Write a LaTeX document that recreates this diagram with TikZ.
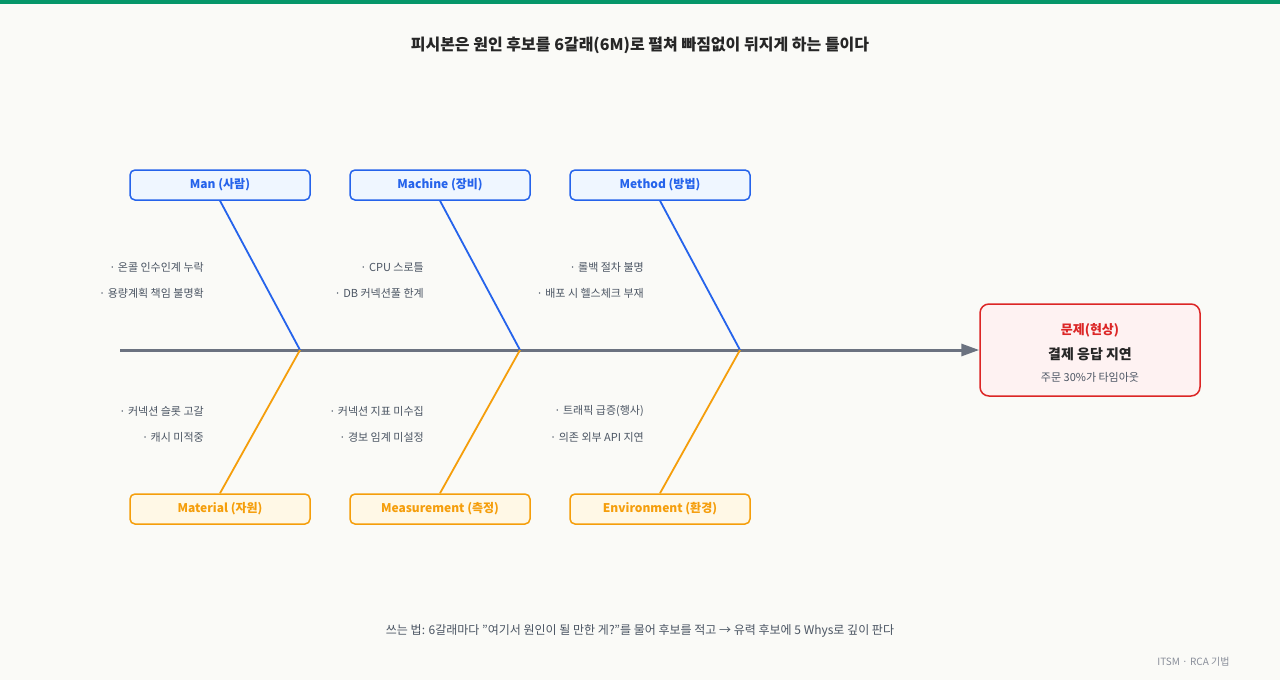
\documentclass[tikz,border=0pt]{standalone}
\usepackage{fontspec}
\setmainfont{Noto Sans CJK KR}
\usetikzlibrary{arrows.meta}
\definecolor{bg}{HTML}{FAFAF7}
\definecolor{bar}{HTML}{059669}
\definecolor{blu}{HTML}{2563EB}
\definecolor{blufill}{HTML}{EFF6FF}
\definecolor{org}{HTML}{F59E0B}
\definecolor{orgfill}{HTML}{FFF8E6}
\definecolor{redc}{HTML}{DC2626}
\definecolor{redfill}{HTML}{FEF2F2}
\definecolor{spine}{HTML}{6B7280}
\definecolor{txt}{HTML}{4B5563}
\tikzset{
 catA/.style={draw=blu,fill=blufill,line width=1.5pt,rounded corners=5pt,minimum width=180pt,minimum height=30pt,text=blu,font=\fontsize{12}{14}\selectfont\bfseries},
 catB/.style={catA,draw=org,fill=orgfill,text=org},
 cause/.style={anchor=east,text=txt,font=\fontsize{11}{13}\selectfont,inner sep=0pt},
 boneA/.style={blu,line width=1.8pt},
 boneB/.style={org,line width=1.8pt}
}
\begin{document}
\begin{tikzpicture}[x=1pt,y=-1pt]
\fill[bg] (0,0) rectangle (1280,680);
\useasboundingbox (0,0) rectangle (1280,680);
\fill[bar] (0,0) rectangle (1280,4);
\node[font=\fontsize{16}{19}\selectfont\bfseries,text=black!85] (title) at (640,45) {피시본은 원인 후보를 6갈래(6M)로 펼쳐 빠짐없이 뒤지게 하는 틀이다};
\node[draw=redc,fill=redfill,line width=1.5pt,rounded corners=9pt,minimum width=220pt,minimum height=92pt] (prob) at (1090,350) {};
\node[text=redc,font=\fontsize{13}{15}\selectfont\bfseries] (p1) at (1090,330) {문제(현상)};
\node[text=black!85,font=\fontsize{14}{16}\selectfont\bfseries] (p2) at (1090,354) {결제 응답 지연};
\node[text=txt,font=\fontsize{11}{13}\selectfont] (p3) at (1090,377) {주문 30\%가 타임아웃};
\coordinate (tail) at (120,350);
\draw[spine,line width=3pt,-{Triangle[length=18pt,width=12pt]}] (tail) -- (prob.west);
\foreach \n/\x/\t/\ca/\cb in {m/220/Man (사람)/· 온콜 인수인계 누락/· 용량계획 책임 불명확,
  c/440/Machine (장비)/· CPU 스로틀/· DB 커넥션풀 한계,
  d/660/Method (방법)/· 롤백 절차 불명/· 배포 시 헬스체크 부재}{
  \node[catA] (\n) at (\x,185) {\t};
  \coordinate (\n j) at (\x+80,350);
  \draw[boneA] (\n.south) -- (\n j);
  \node[cause] (\n a) at (\x-16,267) {\ca};
  \node[cause] (\n b) at (\x-16,293) {\cb};
}
\foreach \n/\x/\t/\ca/\cb in {ma/220/Material (자원)/· 커넥션 슬롯 고갈/· 캐시 미적중,
  me/440/Measurement (측정)/· 커넥션 지표 미수집/· 경보 임계 미설정,
  en/660/Environment (환경)/· 트래픽 급증(행사)/· 의존 외부 API 지연}{
  \node[catB] (\n) at (\x,509) {\t};
  \coordinate (\n j) at (\x+80,350);
  \draw[boneB] (\n.north) -- (\n j);
  \node[cause] (\n a) at (\x-16,411) {\ca};
  \node[cause] (\n b) at (\x-16,437) {\cb};
}
\node[text=txt,font=\fontsize{12}{14}\selectfont] (note) at (640,631) {쓰는 법: 6갈래마다 "여기서 원인이 될 만한 게?"를 물어 후보를 적고 → 유력 후보에 5 Whys로 깊이 판다};
\node[text=spine!80,font=\fontsize{10}{12}\selectfont,anchor=east] (brand) at (1233,662) {ITSM · RCA 기법};
\end{tikzpicture}
\end{document}
